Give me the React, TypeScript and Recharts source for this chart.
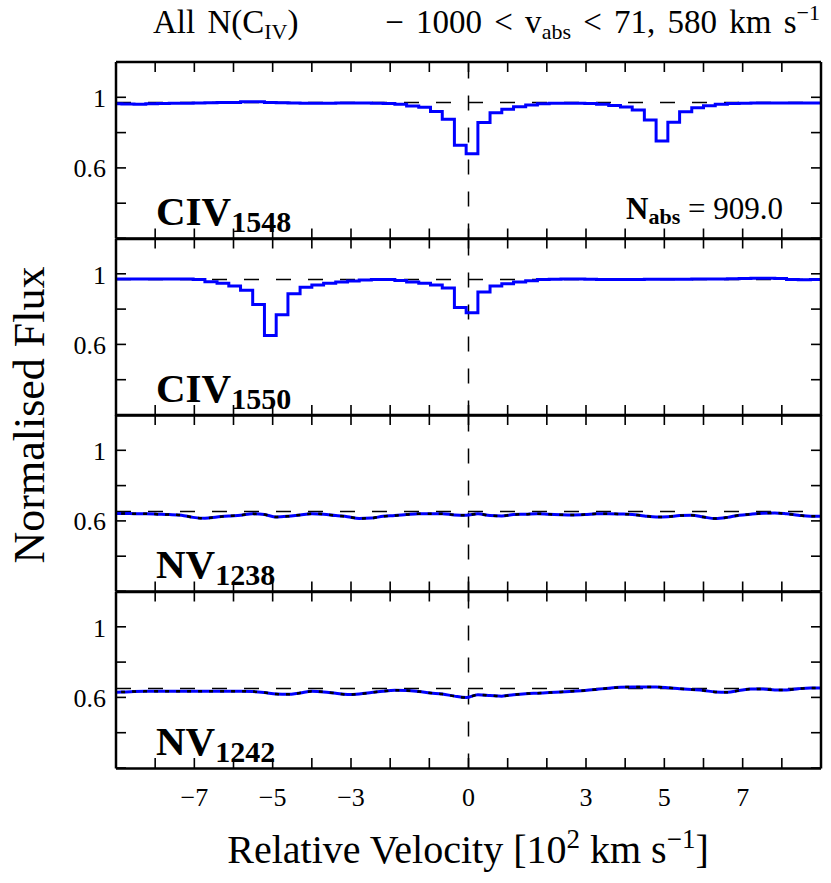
import React from 'react'
import { LineChart, Line, XAxis, YAxis, ReferenceLine } from 'recharts'

// bin edges in units of 10^2 km/s
const VELOCITY = [
  -9.15, -8.85, -8.54, -8.24, -7.94, -7.64, -7.33, -7.03, -6.73, -6.42,
  -6.12, -5.82, -5.51, -5.21, -4.91, -4.61, -4.30, -4.00, -3.70, -3.39,
  -3.09, -2.79, -2.48, -2.18, -1.88, -1.58, -1.27, -0.97, -0.67, -0.36,
  -0.06, 0.24, 0.55, 0.85, 1.15, 1.46, 1.76, 2.06, 2.36, 2.67,
  2.97, 3.27, 3.58, 3.88, 4.18, 4.49, 4.79, 5.09, 5.39, 5.70,
  6.00, 6.30, 6.61, 6.91, 7.21, 7.52, 7.82, 8.12, 8.42, 8.73, 9.03,
]

const CIV1548 = [
  0.964, 0.962, 0.961, 0.963, 0.965, 0.966, 0.967, 0.968, 0.969, 0.970,
  0.971, 0.975, 0.975, 0.970, 0.969, 0.968, 0.967, 0.966, 0.967, 0.968,
  0.968, 0.968, 0.967, 0.965, 0.960, 0.951, 0.943, 0.920, 0.876, 0.729,
  0.680, 0.857, 0.913, 0.933, 0.947, 0.956, 0.963, 0.966, 0.967, 0.967,
  0.965, 0.960, 0.954, 0.945, 0.928, 0.871, 0.753, 0.858, 0.918, 0.941,
  0.952, 0.960, 0.965, 0.967, 0.968, 0.968, 0.968, 0.968, 0.968, 0.968,
]

const CIV1550 = [
  0.974, 0.974, 0.974, 0.974, 0.974, 0.974, 0.974, 0.970, 0.958, 0.950,
  0.934, 0.909, 0.829, 0.653, 0.771, 0.890, 0.926, 0.939, 0.949, 0.956,
  0.962, 0.968, 0.970, 0.970, 0.965, 0.957, 0.950, 0.940, 0.922, 0.812,
  0.782, 0.900, 0.934, 0.947, 0.956, 0.964, 0.971, 0.972, 0.973, 0.973,
  0.972, 0.971, 0.970, 0.970, 0.971, 0.972, 0.972, 0.972, 0.972, 0.973,
  0.973, 0.974, 0.975, 0.976, 0.978, 0.978, 0.976, 0.970, 0.969, 0.970,
]

const NV1238 = [
  0.641, 0.642, 0.641, 0.640, 0.638, 0.636, 0.632, 0.620, 0.615, 0.622,
  0.628, 0.632, 0.640, 0.636, 0.622, 0.626, 0.634, 0.641, 0.638, 0.630,
  0.624, 0.614, 0.616, 0.626, 0.630, 0.636, 0.641, 0.640, 0.641, 0.634,
  0.632, 0.640, 0.630, 0.628, 0.636, 0.638, 0.641, 0.637, 0.635, 0.634,
  0.636, 0.640, 0.641, 0.639, 0.636, 0.628, 0.622, 0.624, 0.630, 0.632,
  0.622, 0.613, 0.620, 0.632, 0.638, 0.643, 0.645, 0.640, 0.632, 0.626,
]

const NV1242 = [
  0.630, 0.633, 0.636, 0.637, 0.637, 0.638, 0.637, 0.637, 0.638, 0.637,
  0.637, 0.638, 0.636, 0.630, 0.622, 0.620, 0.628, 0.637, 0.634, 0.626,
  0.619, 0.622, 0.630, 0.638, 0.643, 0.642, 0.636, 0.628, 0.622, 0.610,
  0.602, 0.618, 0.614, 0.610, 0.618, 0.624, 0.627, 0.630, 0.634, 0.638,
  0.642, 0.648, 0.655, 0.660, 0.662, 0.662, 0.662, 0.658, 0.652, 0.647,
  0.642, 0.634, 0.632, 0.642, 0.650, 0.650, 0.645, 0.645, 0.652, 0.656,
]

// dashed continuum level per panel
const CONTINUUM = [0.97, 0.97, 0.653, 0.653]

const X_DOMAIN = [-9, 9]
const Y_DOMAIN = [0.2, 1.2]
const X_TICKS = [-9, -8, -7, -6, -5, -4, -3, -2, -1, 0, 1, 2, 3, 4, 5, 6, 7, 8, 9]
const X_LABELS = [-7, -5, -3, 0, 3, 5, 7]
const Y_TICKS = [0.2, 0.4, 0.6, 0.8, 1.0, 1.2]
const Y_LABELS = [0.6, 1]

const ROWS = VELOCITY.map((v, i) => {
  const k = Math.min(i, CIV1548.length - 1)
  return { v, civ1548: CIV1548[k], civ1550: CIV1550[k], nv1238: NV1238[k], nv1242: NV1242[k] }
})

const FONT = '"Liberation Serif", "Times New Roman", serif'
const W = 831
const PLOT_L = 116
const PLOT_R = 821
const PANEL_H = 176.5
const PANEL_TOP = 62
const PAD = 3 // keeps the frame lines from being clipped at the svg edge
const TICK = 10
const TW = 1.6

const frame = { stroke: '#000', strokeWidth: 2.5 }

// inward minor ticks on all four sides of every panel, drawn as thin filled bars
function PanelTicks({ idx }: { idx: number }) {
  const top = PANEL_TOP + idx * PANEL_H
  const bottom = top + PANEL_H
  const px = (t: number) => PLOT_L + ((t - X_DOMAIN[0]) / (X_DOMAIN[1] - X_DOMAIN[0])) * (PLOT_R - PLOT_L)
  const py = (v: number) => bottom - ((v - Y_DOMAIN[0]) / (Y_DOMAIN[1] - Y_DOMAIN[0])) * PANEL_H
  const bars: React.ReactNode[] = []
  X_TICKS.forEach(t => {
    bars.push(<rect key={`xt${t}`} x={px(t) - TW / 2} y={top} width={TW} height={TICK} fill="#000" />)
    bars.push(<rect key={`xb${t}`} x={px(t) - TW / 2} y={bottom - TICK} width={TW} height={TICK} fill="#000" />)
  })
  Y_TICKS.forEach(v => {
    bars.push(<rect key={`yl${v}`} x={PLOT_L} y={py(v) - TW / 2} width={TICK} height={TW} fill="#000" />)
    bars.push(<rect key={`yr${v}`} x={PLOT_R - TICK} y={py(v) - TW / 2} width={TICK} height={TW} fill="#000" />)
  })
  return <g>{bars}</g>
}

function Panel({ idx, dataKey, smooth, last }: { idx: number; dataKey: string; smooth?: boolean; last?: boolean }) {
  const height = PANEL_H + 2 * PAD + (last ? 60 : 0)
  return (
    <div style={{ position: 'absolute', left: 0, top: PANEL_TOP + idx * PANEL_H - PAD }}>
      <LineChart width={W} height={height} data={ROWS} margin={{ top: PAD - 1, right: 9, bottom: PAD - 1, left: 0 }}>
        <XAxis xAxisId="x" dataKey="v" type="number" domain={X_DOMAIN} allowDataOverflow orientation="bottom"
          height={1} ticks={X_TICKS} tick={false} tickLine={false} axisLine={frame} />
        <XAxis xAxisId="xt" dataKey="v" type="number" domain={X_DOMAIN} allowDataOverflow orientation="top"
          height={1} ticks={X_TICKS} tick={false} tickLine={false} axisLine={frame} />
        <YAxis yAxisId="y" type="number" domain={Y_DOMAIN} allowDataOverflow orientation="left"
          width={1} ticks={Y_TICKS} tick={false} tickLine={false} axisLine={frame} />
        <YAxis yAxisId="yr" type="number" domain={Y_DOMAIN} allowDataOverflow orientation="right"
          width={1} ticks={Y_TICKS} tick={false} tickLine={false} axisLine={frame} />
        {last && (
          <XAxis xAxisId="xl" dataKey="v" type="number" domain={X_DOMAIN} allowDataOverflow orientation="bottom"
            ticks={X_LABELS} interval={0} tickLine={false} axisLine={false} tickSize={0} tickMargin={18} height={60}
            tick={{ fontSize: 26, fill: '#000', fontFamily: FONT }}
            tickFormatter={(v: number) => String(v).replace('-', '\u2212')} />
        )}
        <YAxis yAxisId="yl" type="number" domain={Y_DOMAIN} allowDataOverflow orientation="left" width={115}
          ticks={Y_LABELS} interval={0} tickLine={false} axisLine={false} tickSize={0} tickMargin={9}
          tick={{ fontSize: 26, fill: '#000', fontFamily: FONT }} />
        <ReferenceLine xAxisId="x" yAxisId="y" y={CONTINUUM[idx]} stroke="#000" strokeWidth={1.5} strokeDasharray="15 17" />
        <ReferenceLine xAxisId="x" yAxisId="y" x={0} stroke="#000" strokeWidth={1.5} strokeDasharray="15 17" />
        <Line xAxisId="x" yAxisId="y" dataKey={dataKey} type={smooth ? 'monotone' : 'stepAfter'}
          stroke="#0000ff" strokeWidth={3} dot={false} isAnimationActive={false} />
        {smooth && (
          <Line xAxisId="x" yAxisId="y" dataKey={dataKey} type="monotone" stroke="#000" strokeWidth={2.5}
            strokeDasharray="4 7" dot={false} isAnimationActive={false} />
        )}
      </LineChart>
    </div>
  )
}

export default function App() {
  return (
    <div style={{ position: 'absolute', left: 0, top: 0, width: W, height: 883, background: '#fff' }}>
      <Panel idx={0} dataKey="civ1548" />
      <Panel idx={1} dataKey="civ1550" />
      <Panel idx={2} dataKey="nv1238" smooth />
      <Panel idx={3} dataKey="nv1242" smooth last />
      <svg width={W} height={883} style={{ position: 'absolute', left: 0, top: 0, pointerEvents: 'none' }}
        fontFamily={FONT} fill="#000">
        <PanelTicks idx={0} />
        <PanelTicks idx={1} />
        <PanelTicks idx={2} />
        <PanelTicks idx={3} />
        {/* titles */}
        <text x={153} y={33} fontSize={33} wordSpacing={4}>
          All N(C<tspan dy={6} fontSize={22}>IV</tspan><tspan dy={-6}>)</tspan>
        </text>
        <text x={820} y={33} fontSize={33} textAnchor="end" wordSpacing={4}>
          {'\u2212 1000 < v'}<tspan dy={6} fontSize={22}>abs</tspan>
          <tspan dy={-6}>{' < 71, 580 km s'}</tspan><tspan dy={-13} fontSize={22}>{'\u22121'}</tspan>
        </text>
        {/* panel labels */}
        <text x={156} y={225} fontSize={41} fontWeight="bold">
          CIV<tspan dy={7} fontSize={30}>1548</tspan>
        </text>
        <text x={156} y={225 + PANEL_H} fontSize={41} fontWeight="bold">
          CIV<tspan dy={7} fontSize={30}>1550</tspan>
        </text>
        <text x={156} y={225 + 2 * PANEL_H} fontSize={41} fontWeight="bold">
          NV<tspan dy={7} fontSize={30}>1238</tspan>
        </text>
        <text x={156} y={225 + 3 * PANEL_H} fontSize={41} fontWeight="bold">
          NV<tspan dy={7} fontSize={30}>1242</tspan>
        </text>
        <text x={626} y={219} fontSize={31}>
          <tspan fontWeight="bold">N</tspan><tspan fontWeight="bold" fontSize={22} dy={5}>abs</tspan>
          <tspan dy={-5}>{' = 909.0'}</tspan>
        </text>
        {/* axis titles */}
        <text x={468} y={863} fontSize={40} textAnchor="middle">
          Relative Velocity [10<tspan dy={-15} fontSize={27}>2</tspan>
          <tspan dy={15}>{' km s'}</tspan><tspan dy={-15} fontSize={27}>{'\u22121'}</tspan>
          <tspan dy={15}>]</tspan>
        </text>
        <text transform="translate(44,415) rotate(-90)" fontSize={44} textAnchor="middle">
          Normalised Flux
        </text>
      </svg>
    </div>
  )
}
